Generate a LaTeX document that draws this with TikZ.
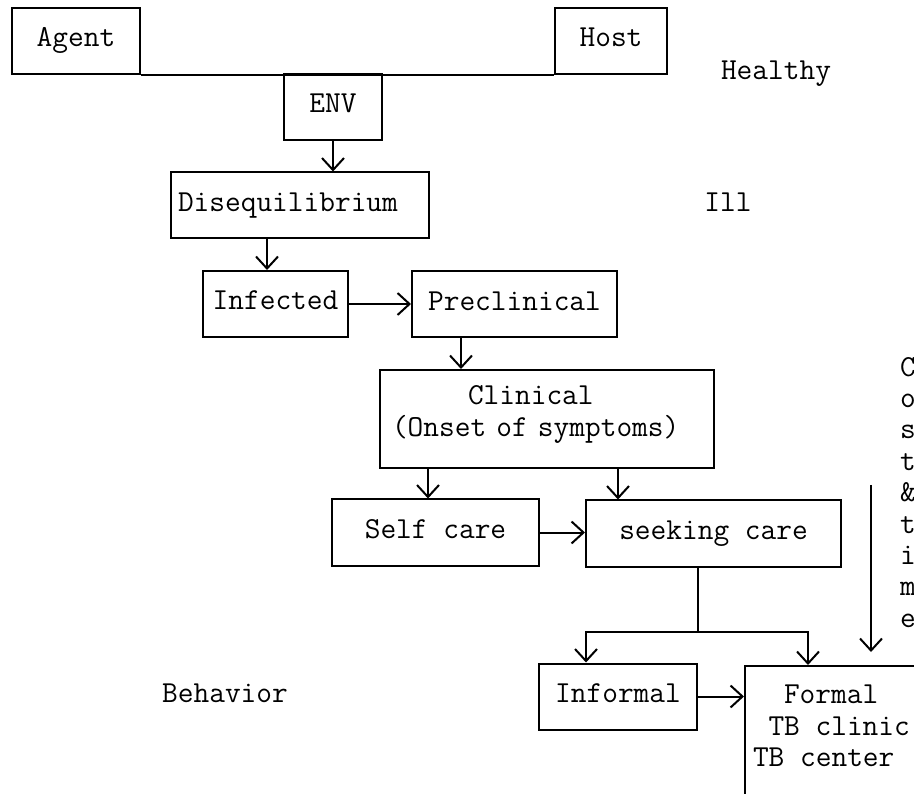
\documentclass[tikz,border=0pt]{standalone}
\usetikzlibrary{arrows.meta}
\tikzset{
  frame/.style={draw, line width=2pt},
  stage/.style={frame, inner xsep=0pt, inner ysep=20pt, text height=19pt, text depth=7pt},
}
\begin{document}
\begin{tikzpicture}[x=1pt, y=-1pt, line width=2pt,
  font=\ttfamily\fontsize{30.5pt}{31.4pt}\selectfont,
  >={Straight Barb[length=12pt,width=22pt]}]
\useasboundingbox (0,0) rectangle (914,794);
\node[stage, minimum width=128pt] (agent) at (76,41) {Agent};
\node[stage, minimum width=112pt] (host) at (611,41) {Host};
\node[stage, minimum width=98pt] (env) at (333,107) {ENV};
\node[stage, minimum width=258pt, text width=244pt, inner xsep=7pt, align=left] (diseq) at (300,205.5) {Disequilibrium};
\node[stage, minimum width=145pt] (infected) at (275.5,304) {Infected};
\node[stage, minimum width=205pt] (preclin) at (514.5,304.5) {Preclinical};
\node[frame, minimum width=334pt, minimum height=98pt, text width=310pt, inner xsep=12pt, align=left, text depth=47pt] (clinical) at (547,419) {\hspace*{76pt}Clinical\\(Onset of symptoms)};
\node[stage, minimum width=207pt] (self) at (435.5,532.5) {Self care};
\node[stage, minimum width=255pt] (seeking) at (713.5,533.5) {seeking care};
\node[stage, minimum width=158pt] (informal) at (618,696.5) {Informal};
\node[frame, anchor=north west, inner xsep=8pt, inner ysep=19pt] (formal) at (744,665)
  {\parbox[c][118pt][t]{184pt}{\hspace*{31pt}Formal\\\hspace*{15.5pt}TB clinic\\TB center}};
\node[anchor=base] (healthy) at (776,80) {Healthy};
\node[anchor=base] (ill) at (728,212) {Ill};
\node[anchor=base] (behavior) at (225,702) {Behavior};
\node[anchor=north, align=center, inner sep=0pt] (cost) at (908,356) {C\\o\\s\\t\\\&\\t\\i\\m\\e};
\coordinate (ctop) at (871,485);
\coordinate (cbot) at (871,652);
\draw[->] (ctop) -- (cbot);
\draw (agent.south east) -- (host.south west);
\draw[->] (env.south) -- (env.south |- diseq.north);
\coordinate (d1) at ([xshift=-8.5pt]infected.north);
\draw[->] (d1 |- diseq.south) -- (d1);
\draw[->] (infected.east) -- (infected.east -| preclin.west);
\coordinate (p1) at ([xshift=-53.5pt]preclin.south);
\draw[->] (p1) -- (p1 |- clinical.north);
\coordinate (c1) at ([xshift=-7.5pt]self.north);
\draw[->] (c1 |- clinical.south) -- (c1);
\coordinate (c2) at ([xshift=-95.5pt]seeking.north);
\draw[->] (c2 |- clinical.south) -- (c2);
\draw[->] (self.east) -- (self.east -| seeking.west);
\coordinate (s0) at ([xshift=-15.5pt]seeking.south);
\coordinate (split) at ([yshift=-64pt]s0);
\draw (s0) -- (split);
\draw[->] (split) -| ([xshift=-32pt]informal.north);
\draw[->] (split) -| ([xshift=64pt]formal.north west);
\draw[->] (informal.east) -- (informal.east -| formal.west);
\end{tikzpicture}
\end{document}
